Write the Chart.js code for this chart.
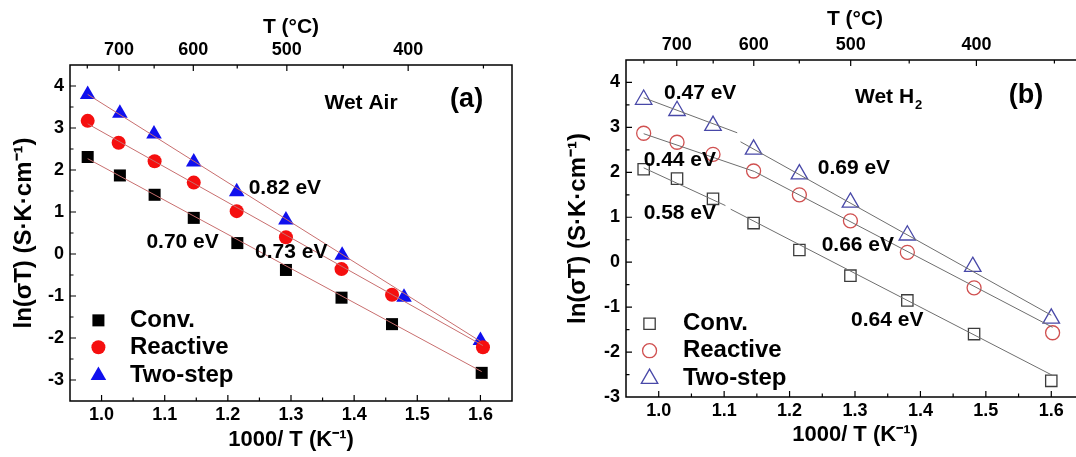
<!DOCTYPE html>
<html>
<head>
<meta charset="utf-8">
<script src="https://cdn.jsdelivr.net/npm/chart.js@4/dist/chart.umd.min.js"></script>
<style>
html, body { margin: 0; padding: 0; background: #fff; overflow: hidden; width: 1076px; height: 457px; }
#chartA { position: absolute; left: 0; top: 0; }
#chartB { position: absolute; left: 540px; top: 0; }
</style>
</head>
<body>
<canvas id="chartA" width="540" height="457"></canvas>
<canvas id="chartB" width="560" height="457"></canvas>
<script>
// ---- values ----
var seriesNames = ['Conv.', 'Reactive', 'Two-step'];
var xTickLabels = [1.0, 1.1, 1.2, 1.3, 1.4, 1.5, 1.6];
var yTickLabels = [-3, -2, -1, 0, 1, 2, 3, 4];
var tempLabels = [700, 600, 500, 400];      // top axis, deg C
var tempMinor = [750, 650, 550, 450, 350];

// (a) wet air
var convAirX  = [0.978, 1.029, 1.084, 1.146, 1.215, 1.292, 1.380, 1.460, 1.602];
var convAirY  = [2.31, 1.87, 1.41, 0.86, 0.26, -0.38, -1.04, -1.67, -2.83];
var reactAirX = [0.978, 1.027, 1.084, 1.146, 1.214, 1.292, 1.380, 1.460, 1.604];
var reactAirY = [3.17, 2.65, 2.21, 1.70, 1.02, 0.40, -0.36, -0.97, -2.22];
var twoAirX   = [0.978, 1.029, 1.083, 1.146, 1.214, 1.292, 1.381, 1.479, 1.600];
var twoAirY   = [3.80, 3.35, 2.86, 2.19, 1.48, 0.81, -0.03, -1.03, -2.06];
// fitted lines, end points
var fitConvAir  = [[0.978, 2.27], [1.602, -2.80]];
var fitReactAir = [[0.978, 3.10], [1.604, -2.18]];
var fitTwoAir   = [[0.978, 3.80], [1.600, -2.08]];

// (b) wet H2
var convH2X  = [0.977, 1.028, 1.083, 1.145, 1.215, 1.293, 1.380, 1.482, 1.600];
var convH2Y  = [2.07, 1.86, 1.41, 0.87, 0.27, -0.30, -0.85, -1.60, -2.64];
var reactH2X = [0.977, 1.028, 1.083, 1.145, 1.215, 1.293, 1.380, 1.482, 1.602];
var reactH2Y = [2.87, 2.67, 2.40, 2.03, 1.50, 0.92, 0.22, -0.57, -1.57];
var twoH2X   = [0.977, 1.028, 1.083, 1.145, 1.215, 1.293, 1.380, 1.480, 1.600];
var twoH2Y   = [3.62, 3.37, 3.04, 2.51, 1.96, 1.33, 0.60, -0.10, -1.25];
var fitConvH2a  = [[0.977, 2.10], [1.102, 1.26]];
var fitConvH2b  = [[1.110, 1.18], [1.602, -2.52]];
var fitReactH2  = [[0.977, 2.86], [1.146, 2.02], [1.602, -1.45]];
var fitTwoH2a   = [[0.977, 3.66], [1.120, 2.88]];
var fitTwoH2b   = [[1.125, 2.68], [1.600, -1.18]];

var FONT = "'Liberation Sans', Arial, sans-serif";
Chart.defaults.font.family = FONT;
Chart.defaults.font.weight = 'bold';
Chart.defaults.color = '#000';

function pts(xs, ys) {
  return xs.map(function (x, i) { return { x: x, y: ys[i] }; });
}
function seg(p) {
  return p.map(function (q) { return { x: q[0], y: q[1] }; });
}

// inward tick marks + full frame
var frame = {
  id: 'frame',
  afterDraw: function (chart) {
    var ctx = chart.ctx, a = chart.chartArea;
    var sx = chart.scales.x, sy = chart.scales.y, st = chart.scales.x2;
    ctx.save();
    ctx.strokeStyle = '#000';
    ctx.lineWidth = 1.2;
    ctx.beginPath();
    function vt(scale, v, len, fromTop) {
      var p = scale.getPixelForValue(v);
      if (p <= a.left + 1 || p >= a.right - 1) return;
      if (fromTop) { ctx.moveTo(p, a.top); ctx.lineTo(p, a.top + len); }
      else { ctx.moveTo(p, a.bottom); ctx.lineTo(p, a.bottom - len); }
    }
    xTickLabels.forEach(function (v) { vt(sx, v, 6, false); vt(sx, v + 0.05, 3.5, false); vt(sx, v - 0.05, 3.5, false); });
    tempLabels.forEach(function (t) { vt(st, 1000 / (t + 273.15), 6, true); });
    tempMinor.forEach(function (t) { vt(st, 1000 / (t + 273.15), 3.5, true); });
    yTickLabels.forEach(function (v) {
      [[v, 6], [v + 0.5, 3.5], [v - 0.5, 3.5]].forEach(function (q) {
        var p = sy.getPixelForValue(q[0]);
        if (p <= a.top + 1 || p >= a.bottom - 1) return;
        ctx.moveTo(a.left, p); ctx.lineTo(a.left + q[1], p);
      });
    });
    ctx.stroke();
    ctx.lineWidth = 1.5;
    ctx.strokeRect(a.left, a.top, a.right - a.left, a.bottom - a.top);
    ctx.restore();
  }
};

// text labels and in-plot legend
var notes = {
  id: 'notes',
  afterDatasetsDraw: function (chart, args, o) {
    var ctx = chart.ctx, sx = chart.scales.x, sy = chart.scales.y;
    ctx.save();
    ctx.fillStyle = '#000';
    ctx.textBaseline = 'middle';
    ctx.textAlign = 'left';
    (o.items || []).forEach(function (it) {
      var px = sx.getPixelForValue(it.x), py = sy.getPixelForValue(it.y);
      ctx.font = 'bold ' + it.size + 'px ' + FONT;
      ctx.fillText(it.text, px, py);
      if (it.sub) {
        var w = ctx.measureText(it.text).width;
        ctx.font = 'bold ' + Math.round(it.size * 0.62) + 'px ' + FONT;
        ctx.fillText(it.sub, px + w + 1, py + it.size * 0.38);
      }
    });
    var lg = o.legend;
    if (lg) {
      var sxp = sx.getPixelForValue(lg.symX), txp = sx.getPixelForValue(lg.textX);
      lg.rows.forEach(function (ry, i) {
        var ds = chart.data.datasets[i];
        var py = sy.getPixelForValue(ry);
        ctx.fillStyle = ds.backgroundColor;
        ctx.strokeStyle = ds.borderColor;
        ctx.lineWidth = ds.borderWidth;
        Chart.helpers.drawPoint(ctx, { pointStyle: ds.pointStyle, radius: ds.pointRadius, rotation: 0, borderWidth: ds.borderWidth }, sxp, py);
        ctx.fillStyle = '#000';
        ctx.font = 'bold ' + lg.size + 'px ' + FONT;
        ctx.fillText(ds.label, txp, py);
      });
    }
    ctx.restore();
  }
};

function makePanel(id, p) {
  var tickFont = { size: 18, weight: 'bold' };
  var noGrid = { display: false, drawTicks: false, tickLength: 0 };
  return new Chart(document.getElementById(id), {
    type: 'scatter',
    data: { datasets: p.datasets },
    plugins: [frame, notes],
    options: {
      responsive: false,
      animation: false,
      layout: { padding: { left: 0, right: p.rightPad, top: 0, bottom: 0 } },
      plugins: {
        legend: { display: false },
        tooltip: { enabled: false },
        notes: { items: p.items, legend: p.legend }
      },
      scales: {
        x: {
          type: 'linear', position: 'bottom', min: 0.95, max: 1.65,
          afterBuildTicks: function (s) { s.ticks = xTickLabels.map(function (v) { return { value: v }; }); },
          ticks: { callback: function (v) { return v.toFixed(1); }, font: tickFont, color: '#000', padding: 3, maxRotation: 0, autoSkip: false },
          grid: noGrid, border: { display: false },
          title: { display: true, text: '1000/ T (K\u207B\u00B9)', font: { size: 22, weight: 'bold' }, color: '#000', padding: { top: 0, bottom: p.xTitlePad } },
          afterFit: function (s) { s.height = p.bottomH; }
        },
        x2: {
          type: 'linear', position: 'top', min: 0.95, max: 1.65,
          afterBuildTicks: function (s) { s.ticks = tempLabels.map(function (t) { return { value: 1000 / (t + 273.15) }; }); },
          ticks: { callback: function (v, i) { return String(tempLabels[i]); }, font: tickFont, color: '#000', padding: 4, maxRotation: 0, autoSkip: false },
          grid: noGrid, border: { display: false },
          title: { display: true, text: 'T (\u00B0C)', font: { size: 21, weight: 'bold' }, color: '#000', padding: { top: p.topTitlePad, bottom: 0 } },
          afterFit: function (s) { s.height = p.topH; }
        },
        y: {
          type: 'linear', position: 'left', min: p.yMin, max: 4.5,
          afterBuildTicks: function (s) { s.ticks = yTickLabels.map(function (v) { return { value: v }; }); },
          ticks: { callback: function (v) { return String(v); }, font: tickFont, color: '#000', padding: 6 },
          grid: noGrid, border: { display: false },
          title: { display: true, text: 'ln(\u03C3T) (S\u00B7K\u00B7cm\u207B\u00B9)', font: { size: 24, weight: 'bold' }, color: '#000', padding: { top: p.yTitlePad, bottom: 0 } },
          afterFit: function (s) { s.width = p.leftW; }
        }
      }
    }
  });
}

function marker(label, data, style, r, fill, stroke, bw) {
  return { label: label, data: data, showLine: false, pointStyle: style, pointRadius: r, pointHoverRadius: r,
           backgroundColor: fill, borderColor: stroke, borderWidth: bw, order: 2 };
}
function fit(data, color) {
  return { label: '', data: data, showLine: true, pointRadius: 0, borderColor: color, borderWidth: 1,
           backgroundColor: color, fill: false, order: 1 };
}

var fitA = '#c86e6e', fitB = '#6e6e6e';
makePanel('chartA', {
  yMin: -3.5, leftW: 70, rightPad: 28, topH: 65, bottomH: 56,
  xTitlePad: 4, topTitlePad: 15, yTitlePad: 10,
  datasets: [
    marker(seriesNames[0], pts(convAirX, convAirY), 'rect', 8.5, '#000', '#000', 0),
    marker(seriesNames[1], pts(reactAirX, reactAirY), 'circle', 7, '#f50f0f', '#f50f0f', 0),
    marker(seriesNames[2], pts(twoAirX, twoAirY), 'triangle', 9, '#1010ee', '#1010ee', 0),
    fit(seg(fitConvAir), fitA), fit(seg(fitReactAir), fitA), fit(seg(fitTwoAir), fitA)
  ],
  items: [
    { text: 'Wet Air', x: 1.353, y: 3.60, size: 21 },
    { text: '(a)', x: 1.552, y: 3.67, size: 27 },
    { text: '0.82 eV', x: 1.233, y: 1.56, size: 21 },
    { text: '0.70 eV', x: 1.071, y: 0.28, size: 21 },
    { text: '0.73 eV', x: 1.243, y: 0.04, size: 21 }
  ],
  legend: { symX: 0.995, textX: 1.045, rows: [-1.58, -2.22, -2.89], size: 24 }
});

makePanel('chartB', {
  yMin: -3, leftW: 86, rightPad: 16, topH: 60, bottomH: 60,
  xTitlePad: 9, topTitlePad: 7, yTitlePad: 24,
  datasets: [
    marker(seriesNames[0], pts(convH2X, convH2Y), 'rect', 8, 'rgba(0,0,0,0)', '#3c3c3c', 1.3),
    marker(seriesNames[1], pts(reactH2X, reactH2Y), 'circle', 7, 'rgba(0,0,0,0)', '#d05050', 1.3),
    marker(seriesNames[2], pts(twoH2X, twoH2Y), 'triangle', 9.5, 'rgba(0,0,0,0)', '#4848a8', 1.3),
    fit(seg(fitConvH2a), fitB), fit(seg(fitConvH2b), fitB), fit(seg(fitReactH2), fitB),
    fit(seg(fitTwoH2a), fitB), fit(seg(fitTwoH2b), fitB)
  ],
  items: [
    { text: 'Wet H', sub: '2', x: 1.300, y: 3.67, size: 21 },
    { text: '(b)', x: 1.535, y: 3.71, size: 27 },
    { text: '0.47 eV', x: 1.008, y: 3.76, size: 21 },
    { text: '0.44 eV', x: 0.977, y: 2.27, size: 21 },
    { text: '0.58 eV', x: 0.977, y: 1.09, size: 21 },
    { text: '0.69 eV', x: 1.243, y: 2.09, size: 21 },
    { text: '0.66 eV', x: 1.249, y: 0.37, size: 21 },
    { text: '0.64 eV', x: 1.294, y: -1.29, size: 21 }
  ],
  legend: { symX: 0.986, textX: 1.037, rows: [-1.37, -1.97, -2.59], size: 24 }
});
</script>
</body>
</html>
